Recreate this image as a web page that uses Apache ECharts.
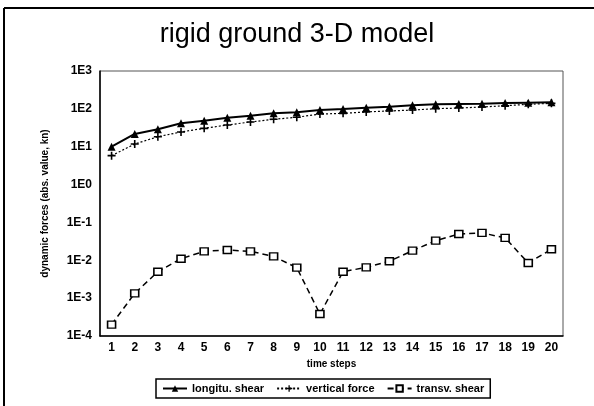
<!DOCTYPE html>
<html><head><meta charset="utf-8">
<script src="https://cdn.jsdelivr.net/npm/echarts@6/dist/echarts.min.js"></script>
<style>html,body{margin:0;padding:0;background:#fff}#c{width:594px;height:406px}</style>
</head><body><div id="c"></div>
<script>
const categories = ['1','2','3','4','5','6','7','8','9','10','11','12','13','14','15','16','17','18','19','20'];
const longituShear = [10, 21.7, 29, 41.5, 48.6, 58, 66, 76, 81, 93, 99, 107, 114, 124, 132, 135, 137, 143, 146, 149];
const verticalForce = [5.8, 11.8, 18.4, 24.5, 30.6, 37.5, 45, 53, 60, 73, 76, 83, 88, 93, 101, 105, 112, 121, 132, 140];
const transvShear = [2.0e-4, 1.34e-3, 5.0e-3, 1.1e-2, 1.72e-2, 1.87e-2, 1.72e-2, 1.27e-2, 6.4e-3, 3.8e-4, 5.0e-3, 6.5e-3, 9.4e-3, 1.8e-2, 3.3e-2, 4.95e-2, 5.3e-2, 3.9e-2, 8.5e-3, 1.95e-2];
const seriesNames = ['longitu. shear', 'vertical force', 'transv. shear'];

const chart = echarts.init(document.getElementById('c'), null, {renderer: 'canvas'});
const font = 'Arial, "Liberation Sans", sans-serif';
chart.setOption({
  animation: false,
  backgroundColor: '#fff',
  title: {
    text: 'rigid ground 3-D model', left: 'center', top: 16,
    textStyle: {fontFamily: font, fontSize: 27, fontWeight: 'normal', color: '#000'}
  },
  graphic: [
    {type: 'line', shape: {x1: 4, y1: 8, x2: 594, y2: 8}, style: {stroke: '#000', lineWidth: 2}},
    {type: 'line', shape: {x1: 4, y1: 8, x2: 4, y2: 406}, style: {stroke: '#000', lineWidth: 2}}
  ],
  grid: {left: 100, top: 71, right: 31, bottom: 70, show: true, borderColor: '#555', borderWidth: 1},
  legend: {
    data: seriesNames, bottom: 8, left: 156,
    itemWidth: 24, itemHeight: 8, itemGap: 12,
    borderColor: '#000', borderWidth: 1.5, padding: [4, 6],
    textStyle: {fontFamily: font, fontSize: 11, fontWeight: 'bold', color: '#000'}
  },
  xAxis: {
    type: 'category', data: categories, boundaryGap: true,
    name: 'time steps', nameLocation: 'middle', nameGap: 17,
    nameTextStyle: {fontFamily: font, fontSize: 10, fontWeight: 'bold', color: '#000'},
    axisLine: {lineStyle: {color: '#000', width: 1.5}},
    axisTick: {show: false},
    axisLabel: {fontFamily: font, fontSize: 12, fontWeight: 'bold', color: '#000', margin: 6}
  },
  yAxis: {
    type: 'log', logBase: 10, min: 1e-4, max: 1e3,
    name: 'dynamic forces (abs. value, kn)', nameLocation: 'middle', nameGap: 50,
    nameTextStyle: {fontFamily: font, fontSize: 10, fontWeight: 'bold', color: '#000'},
    axisLine: {show: true, lineStyle: {color: '#000', width: 1.5}},
    axisTick: {show: false},
    splitLine: {show: false},
    axisLabel: {fontFamily: font, fontSize: 12, fontWeight: 'bold', color: '#000', margin: 8,
      formatter: v => '1E' + Math.round(Math.log10(v))}
  },
  series: [
    {name: seriesNames[0], type: 'line', data: longituShear, symbol: 'triangle', symbolSize: 8,
      itemStyle: {color: '#000'}, lineStyle: {color: '#000', width: 2, type: 'solid'}},
    {name: seriesNames[1], type: 'line', data: verticalForce, symbol: 'path://M4,0H6V4H10V6H6V10H4V6H0V4H4Z', symbolSize: 8,
      itemStyle: {color: '#000'}, lineStyle: {color: '#000', width: 1.2, type: [2, 2]}},
    {name: seriesNames[2], type: 'line', data: transvShear, symbol: 'rect', symbolSize: [8, 7],
      itemStyle: {color: '#fff', borderColor: '#000', borderWidth: 1.5},
      lineStyle: {color: '#000', width: 1.5, type: [6, 4]}}
  ]
});
</script></body></html>
